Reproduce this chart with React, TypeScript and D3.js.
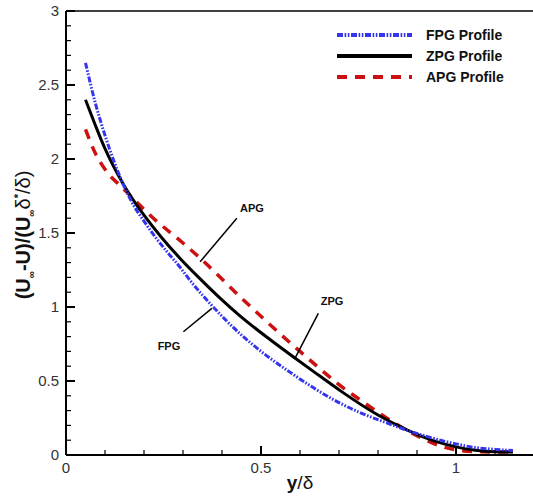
import React from "react";
import * as d3 from "d3";

const fpgX = [0.05, 0.075, 0.1, 0.125, 0.15, 0.175, 0.2, 0.224, 0.26, 0.292, 0.318, 0.374, 0.446, 0.515, 0.574, 0.64, 0.703, 0.76, 0.814, 0.9, 0.96, 1.0, 1.05, 1.1, 1.146];
const fpgY = [2.65, 2.38, 2.16, 1.97, 1.81, 1.68, 1.58, 1.49, 1.37, 1.27, 1.18, 1.01, 0.82, 0.67, 0.56, 0.445, 0.35, 0.28, 0.225, 0.145, 0.1, 0.075, 0.05, 0.038, 0.03];

const zpgX = [0.05, 0.075, 0.1, 0.147, 0.2, 0.245, 0.292, 0.344, 0.395, 0.446, 0.523, 0.587, 0.65, 0.703, 0.8, 0.874, 0.95, 1.0, 1.05, 1.1, 1.146];
const zpgY = [2.4, 2.23, 2.07, 1.83, 1.62, 1.47, 1.33, 1.19, 1.06, 0.94, 0.78, 0.655, 0.535, 0.435, 0.27, 0.17, 0.09, 0.055, 0.032, 0.022, 0.02];

const apgX = [0.05, 0.075, 0.1, 0.147, 0.2, 0.224, 0.292, 0.344, 0.446, 0.574, 0.6, 0.65, 0.7, 0.75, 0.805, 0.865, 0.92, 0.96, 1.0, 1.05, 1.1, 1.146];
const apgY = [2.2, 2.04, 1.93, 1.8, 1.66, 1.6, 1.45, 1.33, 1.07, 0.76, 0.7, 0.585, 0.475, 0.38, 0.28, 0.18, 0.105, 0.06, 0.035, 0.022, 0.02, 0.02];

const seriesNames = ["FPG Profile", "ZPG Profile", "APG Profile"];
const seriesColors = ["#3535ee", "#000000", "#cc1111"];
const seriesDash = ["6,1.6,1.6,1.6,1.6,1.6", "", "10,8"];
const seriesWidth = [3, 3, 3.5];

const xTicks = [0, 0.5, 1];
const xTickLabels = ["0", "0.5", "1"];
const yTicks = [0, 0.5, 1, 1.5, 2, 2.5, 3];
const yTickLabels = ["0", "0.5", "1", "1.5", "2", "2.5", "3"];

// annotations: label, text x/y, leader from (x1,y1) to (x2,y2) in data units
const annLabels = ["APG", "ZPG", "FPG"];
const annText = [[0.477, 1.669], [0.682, 1.04], [0.264, 0.736]];
const annLeader = [[0.438, 1.6, 0.344, 1.306], [0.647, 0.957, 0.587, 0.653], [0.301, 0.833, 0.374, 0.991]];

const W = 533, H = 500;
const left = 66, right = 534, top = 11, bottom = 455;

export default function App() {
  const x = d3.scaleLinear().domain([0, 1.2]).range([left, right]);
  const y = d3.scaleLinear().domain([0, 3]).range([bottom, top]);
  const line = d3.line<[number, number]>().x(d => x(d[0])).y(d => y(d[1])).curve(d3.curveMonotoneX);
  const data: [number, number][][] = [
    fpgX.map((v, i) => [v, fpgY[i]]),
    zpgX.map((v, i) => [v, zpgY[i]]),
    apgX.map((v, i) => [v, apgY[i]]),
  ];
  const xMinor = d3.range(0, 1.2001, 0.1).filter(v => Math.abs(v * 2 - Math.round(v * 2)) > 1e-6);
  const yMinor = d3.range(0, 3.0001, 0.1).filter(v => Math.abs(v * 2 - Math.round(v * 2)) > 1e-6);
  const font = "Liberation Sans, Arial, sans-serif";
  const order = [2, 1, 0];
  return (
    <svg width={W} height={H} style={{ position: "fixed", left: 0, top: 0, background: "#fff" }} fontFamily={font}>
      <rect x={0} y={0} width={W} height={H} fill="#fff" />
      {/* curves */}
      {order.map(i => (
        <path key={i} d={line(data[i]) || ""} fill="none" stroke={seriesColors[i]} strokeWidth={seriesWidth[i]}
          strokeDasharray={seriesDash[i] || undefined} />
      ))}
      {/* axes frame */}
      <line x1={left} x2={right} y1={top} y2={top} stroke="#000" strokeWidth={1.5} />
      <line x1={left} x2={left} y1={top} y2={bottom} stroke="#000" strokeWidth={2} />
      <line x1={left} x2={right} y1={bottom} y2={bottom} stroke="#000" strokeWidth={2} />
      {/* x ticks */}
      {xTicks.map(v => <line key={"xt" + v} x1={x(v)} x2={x(v)} y1={bottom} y2={bottom - 9} stroke="#000" strokeWidth={2} />)}
      {xMinor.map(v => <line key={"xm" + v} x1={x(v)} x2={x(v)} y1={bottom} y2={bottom - 5} stroke="#000" strokeWidth={1.2} />)}
      {xTicks.map((v, i) => (
        <text key={"xl" + v} x={x(v)} y={bottom + 18} textAnchor="middle" fontSize={15} fill="#333">{xTickLabels[i]}</text>
      ))}
      {/* y ticks */}
      {yTicks.map(v => <line key={"yt" + v} x1={left} x2={left + 9} y1={y(v)} y2={y(v)} stroke="#000" strokeWidth={2} />)}
      {yMinor.map(v => <line key={"ym" + v} x1={left} x2={left + 5} y1={y(v)} y2={y(v)} stroke="#000" strokeWidth={1.2} />)}
      {yTicks.map((v, i) => (
        <text key={"yl" + v} x={left - 7} y={y(v) + 5} textAnchor="end" fontSize={15} fill="#333">{yTickLabels[i]}</text>
      ))}
      {/* axis titles */}
      <text x={(left + right) / 2} y={489} textAnchor="middle" fontSize={19} fill="#111">
        <tspan fontWeight="bold">y</tspan><tspan>/δ</tspan>
      </text>
      <text transform={`translate(30, 235) rotate(-90)`} textAnchor="middle" fontSize={20} fill="#111" fontWeight="bold">
        <tspan>(U</tspan><tspan fontSize={10} dy={5}>∞</tspan><tspan dy={-5}>-U)/(U</tspan><tspan fontSize={10} dy={5}>∞</tspan>
        <tspan dy={-5} fontWeight="normal">δ</tspan><tspan fontSize={11} dy={-8}>*</tspan><tspan dy={8} fontWeight="normal">/δ)</tspan>
      </text>
      {/* annotations */}
      {annLabels.map((lab, i) => (
        <g key={lab}>
          <line x1={x(annLeader[i][0])} y1={y(annLeader[i][1])} x2={x(annLeader[i][2])} y2={y(annLeader[i][3])} stroke="#000" strokeWidth={1.5} />
          <text x={x(annText[i][0])} y={y(annText[i][1]) + 4} textAnchor="middle" fontSize={11} fontWeight="bold" fill="#111">{lab}</text>
        </g>
      ))}
      {/* legend */}
      {seriesNames.map((n, i) => {
        const ly = 35 + i * 21;
        return (
          <g key={n}>
            <line x1={337} x2={412} y1={ly} y2={ly} stroke={seriesColors[i]} strokeWidth={4}
              strokeDasharray={seriesDash[i] || undefined} />
            <text x={426} y={ly + 5} fontSize={14} fontWeight="bold" fill="#111">{n}</text>
          </g>
        );
      })}
    </svg>
  );
}
